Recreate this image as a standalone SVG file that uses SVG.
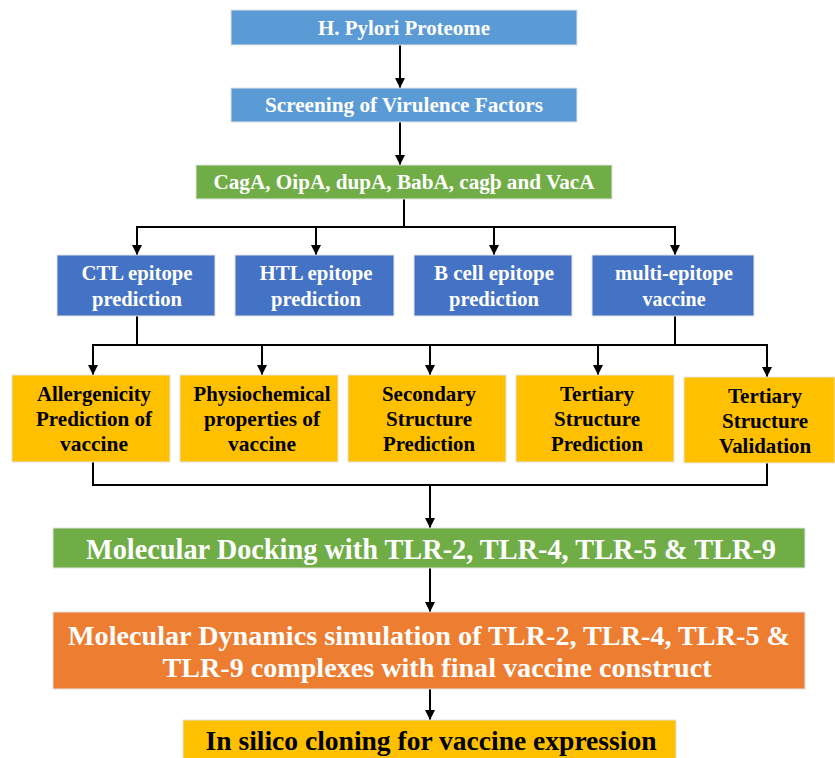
<svg xmlns="http://www.w3.org/2000/svg" width="835" height="758" viewBox="0 0 835 758">
<defs>
<marker id="ah" viewBox="0 0 10 10" refX="10" refY="5" markerWidth="5" markerHeight="5" orient="auto" markerUnits="strokeWidth">
<path d="M0,0 L10,5 L0,10 z" fill="#000"/>
</marker>
<style>
text{font-family:"Liberation Serif","Times New Roman",serif;font-weight:bold;text-anchor:middle}
rect.b{stroke:#e4e4e4;stroke-width:1}
.w{fill:#fff}
.k{fill:#000}
.s17{font-size:20px}
.s18{font-size:22px}
.s26{font-size:30px}
.s28{font-size:28px}
.ln{stroke:#000;stroke-width:2;fill:none}
.ar{stroke:#000;stroke-width:2;fill:none;marker-end:url(#ah)}
</style>
</defs>
<rect width="835" height="758" fill="#fff"/>
<g id="connectors">
<path class="ar" d="M400,45 V88"/>
<path class="ar" d="M400,122 V165"/>
<path class="ln" d="M404,199 V227"/>
<path class="ln" d="M137,227 H675"/>
<path class="ar" d="M137,226 V255"/>
<path class="ar" d="M316,227 V255"/>
<path class="ar" d="M494,227 V255"/>
<path class="ar" d="M675,226 V255"/>
<path class="ln" d="M137,316 V345"/>
<path class="ln" d="M675,316 V345"/>
<path class="ln" d="M93,345 H767"/>
<path class="ar" d="M93,344 V375"/>
<path class="ar" d="M262,345 V375"/>
<path class="ar" d="M430,345 V375"/>
<path class="ar" d="M598,345 V375"/>
<path class="ar" d="M767,344 V377"/>
<path class="ln" d="M93,462 V485 H767 V463"/>
<path class="ar" d="M430,485 V528"/>
<path class="ar" d="M430,568 V612"/>
<path class="ar" d="M430,689 V720"/>
</g>
<g id="n1"><rect class="b" x="231" y="10" width="346" height="35" fill="#5B9BD5"/><text class="w s17" x="404" y="35" textLength="172" lengthAdjust="spacingAndGlyphs">H. Pylori Proteome</text></g>
<g id="n2"><rect class="b" x="231" y="88" width="346" height="34" fill="#5B9BD5"/><text class="w s17" x="404" y="112" textLength="278" lengthAdjust="spacingAndGlyphs">Screening of Virulence Factors</text></g>
<g id="n3"><rect class="b" x="196" y="165" width="416" height="34" fill="#70AD47"/><text class="w s17" x="404" y="189" textLength="381" lengthAdjust="spacingAndGlyphs">CagA, OipA, dupA, BabA, cagþ and VacA</text></g>
<g id="n4"><rect class="b" x="57" y="255" width="158" height="61" fill="#4472C4"/><text class="w s18" x="137" y="280" textLength="111" lengthAdjust="spacingAndGlyphs">CTL epitope</text><text class="w s18" x="137" y="306" textLength="90" lengthAdjust="spacingAndGlyphs">prediction</text></g>
<g id="n5"><rect class="b" x="235" y="255" width="159" height="61" fill="#4472C4"/><text class="w s18" x="316" y="280" textLength="113" lengthAdjust="spacingAndGlyphs">HTL epitope</text><text class="w s18" x="316" y="306" textLength="90" lengthAdjust="spacingAndGlyphs">prediction</text></g>
<g id="n6"><rect class="b" x="414" y="255" width="158" height="61" fill="#4472C4"/><text class="w s18" x="494" y="280" textLength="120" lengthAdjust="spacingAndGlyphs">B cell epitope</text><text class="w s18" x="494" y="306" textLength="90" lengthAdjust="spacingAndGlyphs">prediction</text></g>
<g id="n7"><rect class="b" x="592" y="255" width="162" height="61" fill="#4472C4"/><text class="w s18" x="674" y="280" textLength="118" lengthAdjust="spacingAndGlyphs">multi-epitope</text><text class="w s18" x="674" y="306" textLength="63" lengthAdjust="spacingAndGlyphs">vaccine</text></g>
<g id="n8"><rect class="b" x="12" y="375" width="158" height="87" fill="#FFC000"/><text class="k s18" x="94" y="401" textLength="114" lengthAdjust="spacingAndGlyphs">Allergenicity</text><text class="k s18" x="94" y="426" textLength="116" lengthAdjust="spacingAndGlyphs">Prediction of</text><text class="k s18" x="94" y="451" textLength="68" lengthAdjust="spacingAndGlyphs">vaccine</text></g>
<g id="n9"><rect class="b" x="180" y="375" width="158" height="87" fill="#FFC000"/><text class="k s18" x="262" y="401" textLength="137" lengthAdjust="spacingAndGlyphs">Physiochemical</text><text class="k s18" x="262" y="426" textLength="116" lengthAdjust="spacingAndGlyphs">properties of</text><text class="k s18" x="262" y="451" textLength="68" lengthAdjust="spacingAndGlyphs">vaccine</text></g>
<g id="n10"><rect class="b" x="348" y="375" width="158" height="87" fill="#FFC000"/><text class="k s18" x="429" y="401" textLength="94" lengthAdjust="spacingAndGlyphs">Secondary</text><text class="k s18" x="429" y="426" textLength="86" lengthAdjust="spacingAndGlyphs">Structure</text><text class="k s18" x="429" y="451" textLength="92" lengthAdjust="spacingAndGlyphs">Prediction</text></g>
<g id="n11"><rect class="b" x="516" y="375" width="158" height="87" fill="#FFC000"/><text class="k s18" x="597" y="401" textLength="74" lengthAdjust="spacingAndGlyphs">Tertiary</text><text class="k s18" x="597" y="426" textLength="86" lengthAdjust="spacingAndGlyphs">Structure</text><text class="k s18" x="597" y="451" textLength="92" lengthAdjust="spacingAndGlyphs">Prediction</text></g>
<g id="n12"><rect class="b" x="684" y="377" width="151" height="86" fill="#FFC000"/><text class="k s18" x="765" y="403" textLength="74" lengthAdjust="spacingAndGlyphs">Tertiary</text><text class="k s18" x="765" y="428" textLength="86" lengthAdjust="spacingAndGlyphs">Structure</text><text class="k s18" x="765" y="453" textLength="92" lengthAdjust="spacingAndGlyphs">Validation</text></g>
<g id="n13"><rect class="b" x="53" y="528" width="752" height="40" fill="#70AD47"/><text class="w s26" x="431" y="559" textLength="690" lengthAdjust="spacingAndGlyphs">Molecular Docking with TLR-2, TLR-4, TLR-5 &amp; TLR-9</text></g>
<g id="n14"><rect class="b" x="53" y="612" width="752" height="77" fill="#ED7D31"/><text class="w s28" x="429" y="645" textLength="722" lengthAdjust="spacingAndGlyphs">Molecular Dynamics simulation of TLR-2, TLR-4, TLR-5 &amp;</text><text class="w s28" x="437" y="677" textLength="549" lengthAdjust="spacingAndGlyphs">TLR-9 complexes with final vaccine construct</text></g>
<g id="n15"><rect class="b" x="183" y="720" width="493" height="40" fill="#FFC000"/><text class="k s28" x="431" y="750" textLength="451" lengthAdjust="spacingAndGlyphs">In silico cloning for vaccine expression</text></g>
</svg>
